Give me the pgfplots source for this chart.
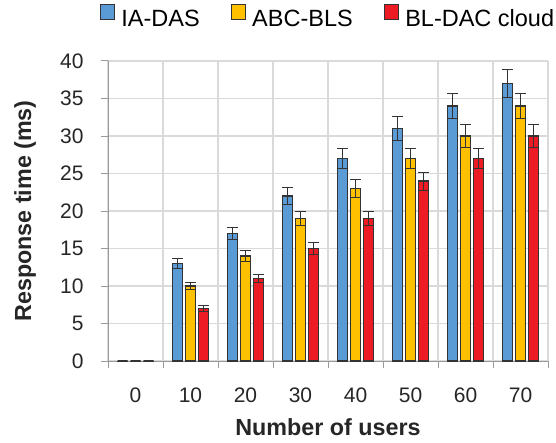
\documentclass[border=0pt]{standalone}
\usepackage{pgfplots}
\pgfplotsset{compat=1.18}
\usepackage{fontspec}
\setmainfont{Liberation Sans}
\definecolor{cblue}{HTML}{5B9BD5}
\definecolor{cyellow}{HTML}{FFC000}
\definecolor{cred}{HTML}{ED1C24}
\definecolor{cgrid}{HTML}{DADADA}
\definecolor{caxis}{HTML}{9A9A9A}
\definecolor{cedge}{HTML}{333333}
\begin{document}
\begin{tikzpicture}
\begin{axis}[
  scale only axis,
  width=440pt, height=300pt,
  ybar=3pt, bar width=10pt,
  xmin=-0.5, xmax=7.5,
  ymin=0, ymax=40,
  ytick={0,5,...,40},
  xtick={0,1,2,3,4,5,6,7},
  xticklabels={0,10,20,30,40,50,60,70},
  minor xtick={-0.5,0.5,...,7.5},
  xminorgrids=true, ymajorgrids=true,
  grid style={cgrid, line width=1.2pt},
  minor grid style={cgrid, line width=1.2pt},
  axis x line*=bottom, axis y line*=left,
  axis line style={caxis, line width=1pt},
  x axis line style={-}, y axis line style={-},
  tick align=outside,
  major tick length=7pt, minor tick length=7pt,
  xtick style={draw=none},
  minor x tick style={caxis, line width=1pt, draw=caxis},
  ytick style={caxis, line width=1pt},
  tick label style={font=\fontsize{21}{24}\selectfont, text=black!85},
  yticklabel style={xshift=-14pt},
  xticklabel style={yshift=-16pt},
  /pgf/number format/assume math mode=true,
  xlabel={\textbf{Number of users}},
  ylabel={\textbf{Response time (ms)}},
  every axis x label/.style={at={(axis description cs:0.5,-0.2217)}, anchor=center,
    font=\fontsize{23.3}{26}\selectfont, text=black!85},
  every axis y label/.style={at={(axis description cs:-0.1886,0.5)}, anchor=center, rotate=90,
    font=\fontsize{23.3}{26}\selectfont, text=black!85},
  error bars/y dir=both, error bars/y explicit,
  error bars/error bar style={cedge, line width=1pt},
  error bars/error mark options={cedge, line width=1pt, mark size=5.5pt, rotate=90},
  legend style={at={(0.5,1.0)}, anchor=north, yshift=59pt, draw=none, fill=none,
    legend columns=3, font=\fontsize{23.5}{26}\selectfont,
    /tikz/every odd column/.append style={column sep=4pt},
    /tikz/every even column/.append style={column sep=29pt}},
  legend image code/.code={\draw[#1, draw=cedge, line width=1pt] (0pt,0pt) rectangle (14.5pt,14.5pt);},
  clip=false,
]
\addplot[fill=cblue, draw=cedge, line width=1.2pt] coordinates {
 (0,0) +- (0,0) (1,13) +- (0,0.65) (2,17) +- (0,0.85) (3,22) +- (0,1.1)
 (4,27) +- (0,1.35) (5,31) +- (0,1.55) (6,34) +- (0,1.7) (7,37) +- (0,1.85)};
\addplot[fill=cyellow, draw=cedge, line width=1.2pt] coordinates {
 (0,0) +- (0,0) (1,10) +- (0,0.5) (2,14) +- (0,0.7) (3,19) +- (0,0.95)
 (4,23) +- (0,1.15) (5,27) +- (0,1.35) (6,30) +- (0,1.5) (7,34) +- (0,1.7)};
\addplot[fill=cred, draw=cedge, line width=1.2pt] coordinates {
 (0,0) +- (0,0) (1,7) +- (0,0.35) (2,11) +- (0,0.55) (3,15) +- (0,0.75)
 (4,19) +- (0,0.95) (5,24) +- (0,1.2) (6,27) +- (0,1.35) (7,30) +- (0,1.5)};
\legend{IA-DAS, ABC-BLS, BL-DAC cloud}
\end{axis}
\pgfresetboundingbox
\path[use as bounding box] ([shift={(-108pt,-81pt)}]current axis.south west) rectangle ([shift={(8pt,61pt)}]current axis.north east);
\end{tikzpicture}
\end{document}
